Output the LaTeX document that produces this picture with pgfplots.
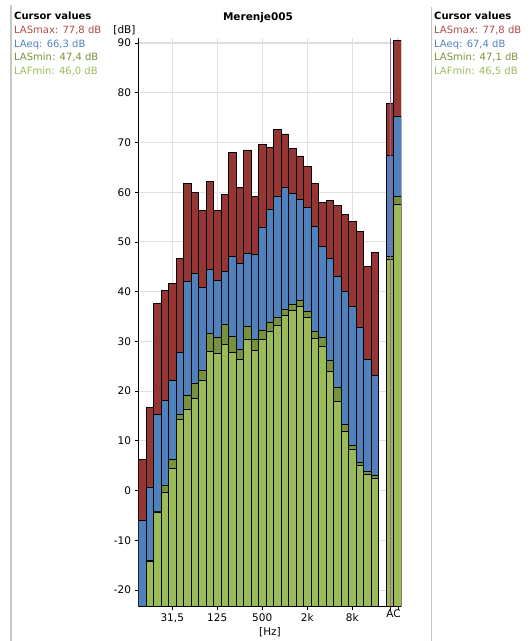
\documentclass[border=0pt]{standalone}
\usepackage{pgfplots}
\pgfplotsset{compat=1.18}
\usepackage{pgfplotstable}
\usepackage{fontspec}
\setmainfont{DejaVu Sans}
\definecolor{cmax}{HTML}{963634}
\definecolor{ceq}{HTML}{4F81BD}
\definecolor{csmin}{HTML}{76923C}
\definecolor{cfmin}{HTML}{9BBB59}
\definecolor{tmax}{HTML}{B04A48}
\definecolor{cursor}{HTML}{A462A0}
\definecolor{sep}{HTML}{C8C8C8}

\pgfplotstableread{
i  max   eq    smin   fmin
0  6.3   -5.9  -30    -30
1  16.7  0.6   -14.0  -14.3
2  37.6  15.3  -4.2   -4.3
3  40.3  18.1  1.0    -0.4
4  41.7  22.1  6.2    4.5
5  46.7  27.8  15.3   14.4
6  61.8  42.1  19.2   16.4
7  59.9  43.6  21.5   18.5
8  56.4  40.9  24.1   22.1
9  62.1  44.4  31.6   27.9
10 56.4  42.3  30.9   27.5
11 59.6  44.0  33.4   29.4
12 68.0  47.0  31.0   27.8
13 61.0  45.6  28.4   26.3
14 68.5  47.7  33.1   30.5
15 59.2  47.5  30.4   28.1
16 69.6  52.9  32.2   30.4
17 69.0  56.6  33.9   32.1
18 72.7  59.2  34.9   33.3
19 71.7  61.0  36.5   35.2
20 68.8  59.8  37.5   36.3
21 67.3  58.6  38.3   37.1
22 65.2  57.0  36.0   34.8
23 61.8  53.2  32.0   30.6
24 58.0  49.2  30.9   29.1
25 58.4  46.7  26.2   24.0
26 57.4  43.1  20.7   18.0
27 55.6  40.1  13.3   12.0
28 54.2  37.1  9.0    8.2
29 52.1  32.8  5.6    5.0
30 45.1  26.4  3.8    3.3
31 47.9  23.1  3.0    2.5
33 77.8  67.4  47.1   46.5
34 90.5  75.3  59.1   57.5
}\bands

\begin{document}
\begin{tikzpicture}
\path[use as bounding box] (0pt,0pt) rectangle (530pt,641pt);
\draw[sep, line width=1.5pt] (11pt,0pt) -- (11pt,636pt);
\draw[sep, line width=1.5pt] (431.5pt,0pt) -- (431.5pt,634pt);
\node[anchor=north west, align=left, inner sep=0pt, font=\fontsize{10}{13.9}\selectfont] at (14pt,629.5pt)
  {\textbf{Cursor values}\\ \textcolor{tmax}{LASmax: 77,8 dB}\\ \textcolor{ceq}{LAeq: 66,3 dB}\\ \textcolor{csmin}{LASmin: 47,4 dB}\\ \textcolor{cfmin}{LAFmin: 46,0 dB}};
\node[anchor=north west, align=left, inner sep=0pt, font=\fontsize{10}{13.9}\selectfont] at (434pt,629.5pt)
  {\textbf{Cursor values}\\ \textcolor{tmax}{LASmax: 77,8 dB}\\ \textcolor{ceq}{LAeq: 67,4 dB}\\ \textcolor{csmin}{LASmin: 47,1 dB}\\ \textcolor{cfmin}{LAFmin: 46,5 dB}};
\node[font=\bfseries\fontsize{10.5}{12}\selectfont] at (258pt,623.5pt) {Merenje005};
\node[font=\fontsize{10.5}{12}\selectfont] at (124.5pt,611pt) {[dB]};
\node[font=\fontsize{10.5}{12}\selectfont] at (270pt,9pt) {[Hz]};
\begin{axis}[
  at={(138.5pt,35pt)}, anchor=south west, scale only axis,
  width=262.5pt, height=568pt,
  xmin=-0.5, xmax=34.5, ymin=-23.2, ymax=91,
  y coord trafo/.code={\pgfmathparse{#1+30}},
  y coord inv trafo/.code={\pgfmathparse{#1-30}},
  axis x line=bottom, axis y line=left,
  axis line style={-, black, line width=0.9pt},
  tick align=outside, major tick length=4pt,
  tick style={black, line width=0.8pt},
  xtick={4,10,16,22,28,33.1,34.1},
  xticklabels={{31,5},125,500,2k,8k,,},
  extra x ticks={33.5}, extra x tick labels={AC},
  extra x tick style={major tick length=0pt, grid=none},
  ytick={-20,-10,0,10,20,30,40,50,60,70,80,90},
  yticklabels={-20,-10,0,10,20,30,40,50,60,70,80,90},
  tick label style={font=\fontsize{10.5}{12}\selectfont},
  grid=major, major grid style={gray!25, line width=1.1pt},
  clip=true,
]
\addplot[ybar, bar width=1, bar shift=0pt, fill=cmax, draw=black, line width=0.7pt] table[x=i, y=max] {\bands};
\addplot[ybar, bar width=1, bar shift=0pt, fill=ceq, draw=black, line width=0.7pt] table[x=i, y=eq] {\bands};
\addplot[ybar, bar width=1, bar shift=0pt, fill=csmin, draw=black, line width=0.7pt] table[x=i, y=smin] {\bands};
\addplot[ybar, bar width=1, bar shift=0pt, fill=cfmin, draw=black, line width=0.7pt] table[x=i, y=fmin] {\bands};
\addplot[cursor, line width=0.8pt] coordinates {(33.1,-23.2) (33.1,91)};
\end{axis}
\end{tikzpicture}
\end{document}
